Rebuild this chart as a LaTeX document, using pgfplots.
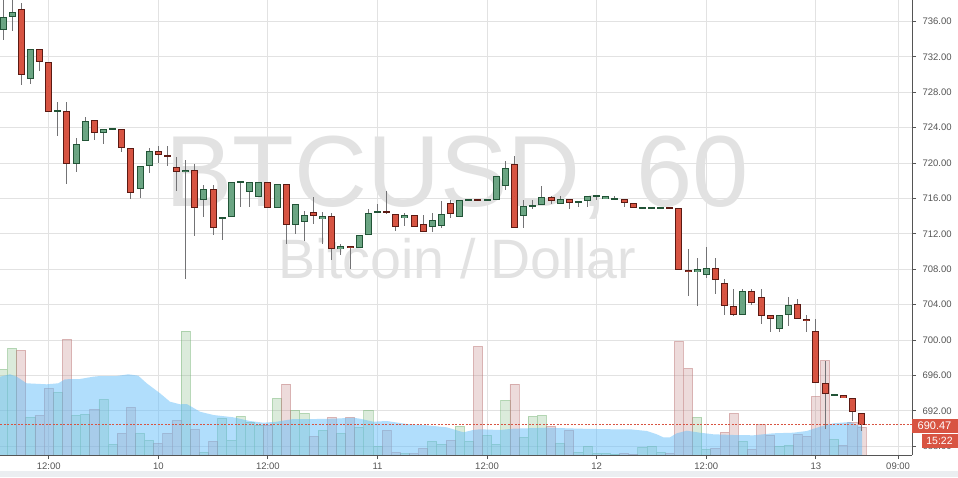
\documentclass[border=0pt]{standalone}
\usepackage{fontspec}
\setmainfont{Liberation Sans}
\usepackage{pgfplots}
\pgfplotsset{compat=1.18}
\usepackage{pgfplotstable}

\definecolor{bullfill}{RGB}{107,165,131}
\definecolor{bullline}{RGB}{34,84,55}
\definecolor{bearfill}{RGB}{215,84,66}
\definecolor{bearline}{RGB}{91,26,19}
\definecolor{wick}{RGB}{115,115,117}
\definecolor{gridc}{RGB}{226,226,226}
\definecolor{axisc}{RGB}{85,85,85}
\definecolor{volred}{RGB}{187,115,115}
\definecolor{volgreen}{RGB}{115,179,115}
\definecolor{areac}{RGB}{100,190,250}
\definecolor{labelred}{RGB}{216,84,66}
\definecolor{wm}{RGB}{226,226,226}
\definecolor{bottomband}{RGB}{235,238,241}

% h = hours since 10 00:00 ; O H L C ; V = volume (pane units)
\pgfplotstableread{
h O H L C V
-17 735.00 739.50 733.90 736.47 85.7
-16 736.50 739.50 734.96 737.04 106.7
-14 729.47 732.86 728.97 732.86 37.7
-11 725.85 726.90 723.10 725.86 62.7
-9 719.86 722.84 719.00 722.12 39.7
-8 722.46 725.21 722.46 724.72 40.7
-6 723.37 723.82 722.19 723.82 55.7
-5 723.82 723.82 723.82 723.83 10.7
-2 717.04 719.64 716.09 719.64 21.7
-1 719.64 721.67 718.92 721.33 14.7
3 718.96 720.35 706.94 719.19 124
5 715.80 717.49 713.94 717.04 2.7
7 713.83 713.83 711.35 713.88 36.7
8 713.88 717.83 713.88 717.83 14.7
9 717.83 717.83 715.07 717.85 38.7
10 716.70 717.83 715.07 717.83 32.7
11 716.14 717.83 716.14 717.83 29.7
13 714.89 717.60 714.89 717.60 56.7
15 712.97 715.34 712.02 715.34 44.7
16 713.31 714.59 711.16 714.10 41.7
18 713.65 714.44 710.89 713.99 24.7
20 710.26 710.82 709.65 710.60 21.7
22 710.37 711.84 710.37 711.84 27.7
23 711.84 714.78 711.84 714.33 44.7
24 714.44 715.34 714.44 714.46 8.7
27 713.76 714.33 712.86 714.10 1.5
30 712.75 714.33 712.18 713.54 13.7
31 712.86 715.68 712.63 714.21 10.7
33 713.88 715.80 713.88 715.80 28.7
34 715.80 715.80 715.80 715.81 13.7
36 715.80 715.81 715.80 715.81 19.7
37 715.80 718.51 715.80 718.51 10.7
38 717.38 720.20 716.93 719.41 54.7
40 714.01 715.80 712.63 715.12 17.7
41 715.19 715.80 714.78 715.23 38.7
42 715.23 717.38 715.23 716.14 39.7
44 715.34 716.25 715.34 715.91 11.7
46 715.46 715.68 715.00 715.68 2.7
47 715.68 716.25 715.00 716.25 8.7
48 716.25 716.25 715.80 716.26 1.7
49 715.91 716.25 715.91 716.25 1.7
50 715.91 716.25 715.91 715.92 1.0
53 714.89 714.90 714.89 714.90 7.7
54 714.89 714.90 714.89 714.90 8.7
55 714.89 714.90 714.89 714.90 2.7
59 707.66 709.24 703.89 708.00 37.7
60 707.32 710.49 706.98 708.11 5.7
64 702.80 705.74 702.80 705.51 13.7
68 701.22 702.80 700.95 702.80 8.7
69 702.80 704.84 701.63 703.93 9.7
74 693.76 693.90 693.70 693.78 15.7
}\bull

\pgfplotstableread{
h O H L C V
-15 737.38 738.06 728.86 729.92 104.7
-13 732.86 732.86 730.44 731.39 39.7
-12 731.39 731.39 725.85 725.85 66.7
-10 725.85 726.90 717.67 719.86 115.7
-7 724.84 724.84 722.64 723.37 45.7
-4 723.82 723.82 721.29 721.67 21.7
-3 721.67 721.67 715.98 716.59 47.7
0 721.33 721.97 719.98 720.88 11.7
1 720.88 721.97 719.71 720.66 21.7
2 719.53 720.72 716.85 718.96 34.7
4 719.19 719.86 711.80 714.89 25.7
6 717.04 717.49 711.91 712.63 13.7
12 717.83 717.83 714.89 714.89 29.7
14 717.60 717.60 710.89 712.97 71.0
17 714.44 716.14 713.08 713.99 18.7
19 713.99 714.33 709.02 710.26 37.7
21 710.60 710.60 708.07 710.37 37.7
25 714.46 716.85 714.21 714.44 24.7
26 714.21 714.21 712.29 712.75 2.7
28 714.10 714.10 712.75 712.75 1.5
29 713.08 714.10 712.18 712.18 6.7
32 715.46 715.80 713.76 714.21 14.7
35 715.81 715.81 715.80 715.80 108.7
39 719.86 720.77 712.63 712.63 71.0
43 716.14 716.25 715.34 715.68 28.7
45 715.91 715.91 714.78 715.46 24.7
51 715.91 715.91 715.00 715.46 1.7
52 715.46 715.46 714.89 714.89 1.0
56 714.90 714.90 714.89 714.89 1.7
57 714.89 714.89 707.89 707.89 113.7
58 707.89 710.26 705.02 707.66 86.7
61 708.11 709.24 705.24 706.76 6.7
62 706.42 706.87 702.87 703.82 22.7
63 703.82 705.74 702.69 702.80 41.7
65 705.51 705.74 703.93 704.16 5.7
66 704.84 705.74 701.85 702.69 30.7
67 702.80 702.80 700.95 702.35 19.7
70 704.04 704.61 702.35 702.35 20.7
71 702.35 702.80 700.95 702.12 18.7
72 701.00 702.42 695.12 695.12 58.7
73 695.12 697.67 689.92 693.88 94.7
75 693.76 693.76 693.42 693.42 9.7
76 693.42 693.42 690.89 691.84 32.7
77 691.73 691.73 689.70 690.47 27.7
}\bear

\pgfplotsset{
  base/.style={width=912pt, height=455pt, scale only axis,
    at={(0pt,22pt)}, anchor=south west, xmin=-17.33, xmax=82.52},
  price/.style={base, ymin=687.02, ymax=738.43},
  wickplot/.style={only marks, mark size=0pt, mark options={draw=none, fill=none},
    error bars/.cd, y dir=both, y explicit, error mark=none,
    error bar style={draw=wick, line width=1pt}},
  bodyplot/.style 2 args={only marks, mark size=0pt, mark options={draw=none, fill=none},
    error bars/.cd, y dir=both, y explicit, error mark=none,
    error bar style={draw=#1, line width=#2}},
}

\begin{document}
\begin{tikzpicture}
\path[use as bounding box] (0pt,0pt) rectangle (958pt,477pt);
\fill[white] (0pt,0pt) rectangle (958pt,477pt);
\fill[bottomband] (0pt,0pt) rectangle (958pt,6pt);

% watermark
\node[anchor=base, text=wm, font=\fontsize{101}{101}\selectfont, inner sep=0pt] at (457pt,270pt) {BTCUSD, 60};
\node[anchor=base, text=wm, font=\fontsize{55.5}{56}\selectfont, inner sep=0pt] at (457pt,198.7pt) {Bitcoin / Dollar};

% grid
\begin{axis}[price,
  xtick={-12,0,12,24,36,48,60,72,81}, ytick={688,692,...,736},
  xticklabels={}, yticklabels={},
  grid=major, major grid style={gridc, line width=1pt},
  major tick length=0pt, axis line style={draw=none}]
\addplot[draw=none] coordinates {(0,700)};
\end{axis}

% volume pane
\begin{axis}[base, ymin=0, ymax=455, hide axis]
\addplot[ybar, bar width=1, bar shift=0pt, fill=volgreen, fill opacity=0.25,
  draw=volgreen, draw opacity=0.45, line width=0.8pt] table[x=h, y=V] {\bull};
\addplot[ybar, bar width=1, bar shift=0pt, fill=volred, fill opacity=0.25,
  draw=volred, draw opacity=0.45, line width=0.8pt] table[x=h, y=V] {\bear};
\addplot[draw=none, fill=areac, fill opacity=0.5] coordinates {
(-17.33,0) (-17.33,78.3) (-16.24,80.7) (-15.5,78.3) (-14.41,71.7) (-12.22,70.7)
(-10.95,71.7) (-10.22,75.7) (-8.57,76) (-7.12,78.3) (-6.38,79) (-4.55,79)
(-3.28,80.7) (-2.19,79.3) (-1.27,71.7) (0.19,61.7) (1.28,53.3) (2.38,50.7)
(3.11,51) (4.57,43.3) (6.02,40) (8.21,37.7) (10.04,34) (11.5,32.3) (12.96,33.3)
(14.78,36) (17.34,36) (19.16,36.3) (21.35,37.3) (22.08,36.3) (23.54,33.3)
(25.01,34) (27.2,31) (29.39,29.7) (31.58,27.7) (33.4,22.7) (34.49,25) (35.22,25.7)
(37.41,25) (38.87,26.3) (42.53,27.3) (46.17,26.3) (49.82,25.7) (51.65,25.7)
(53.48,24) (54.57,20.7) (55.29,17.7) (56.03,17.7) (56.76,21.7) (57.86,24.3)
(59.31,22.3) (60.77,20.7) (62.96,20) (65.15,19.7) (67.34,21.7) (69.53,22.3)
(71.0,24) (72.45,28.3) (73.91,31.7) (75.74,33) (76.61,29.7) (77.05,29) (77.05,0)};
\end{axis}

% candles
\begin{axis}[price, hide axis]
\addplot[wickplot] table[x=h, y expr={(\thisrow{H}+\thisrow{L})/2},
  y error expr={(\thisrow{H}-\thisrow{L})/2}] {\bull};
\addplot[wickplot] table[x=h, y expr={(\thisrow{H}+\thisrow{L})/2},
  y error expr={(\thisrow{H}-\thisrow{L})/2}] {\bear};
\addplot[bodyplot={bullline}{7pt}] table[x=h, y expr={(\thisrow{O}+\thisrow{C})/2},
  y error expr={max(abs(\thisrow{C}-\thisrow{O})/2,0.113)}] {\bull};
\addplot[bodyplot={bullfill}{5pt}] table[x=h, y expr={(\thisrow{O}+\thisrow{C})/2},
  y error expr={max(abs(\thisrow{C}-\thisrow{O})/2-0.113,0)}] {\bull};
\addplot[bodyplot={bearline}{7pt}] table[x=h, y expr={(\thisrow{O}+\thisrow{C})/2},
  y error expr={max(abs(\thisrow{C}-\thisrow{O})/2,0.113)}] {\bear};
\addplot[bodyplot={bearfill}{5pt}] table[x=h, y expr={(\thisrow{O}+\thisrow{C})/2},
  y error expr={max(abs(\thisrow{C}-\thisrow{O})/2-0.113,0)}] {\bear};
\addplot[labelred, line width=1pt, dash pattern=on 2pt off 1.5pt]
  coordinates {(-17.33,690.47) (82.52,690.47)};
\end{axis}

% axis lines, ticks, labels
\begin{axis}[price,
  axis x line*=bottom, axis y line*=right,
  axis line style={axisc, line width=1pt, -},
  xtick={-12,0,12,24,36,48,60,72,81},
  xticklabels={12:00,10,12:00,11,12:00,12,12:00,13,09:00},
  ytick={688,692,...,736},
  yticklabels={688.00,692.00,696.00,700.00,704.00,708.00,712.00,716.00,720.00,724.00,728.00,732.00,736.00},
  tick align=outside, major tick length=4pt,
  tick style={axisc, line width=1pt},
  ticklabel style={font=\fontsize{9.5}{11}\selectfont, text=axisc},
  yticklabel style={anchor=west, xshift=3pt},
  xticklabel style={anchor=north, yshift=0pt}]
\addplot[draw=none] coordinates {(0,700)};
\end{axis}

% last price and time boxes
\fill[labelred] (912pt,44.5pt) rectangle (958pt,58.5pt);
\node[text=white, font=\fontsize{11}{12}\selectfont, inner sep=0pt] at (934.5pt,51.5pt) {690.47};
\fill[labelred] (921.7pt,29.3pt) rectangle (958pt,42.7pt);
\node[text=white, font=\fontsize{10.5}{12}\selectfont, inner sep=0pt] at (939.5pt,36pt) {15:22};
\end{tikzpicture}
\end{document}
